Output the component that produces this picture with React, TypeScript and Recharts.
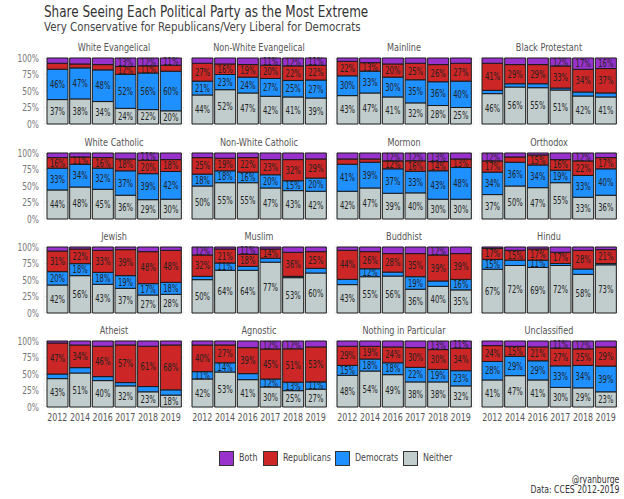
import { BarChart, Bar, XAxis, YAxis, CartesianGrid, LabelList } from 'recharts';

const years = ['2012', '2014', '2016', '2017', '2018', '2019'];

const groups = [
  'White Evangelical', 'Non-White Evangelical', 'Mainline', 'Black Protestant',
  'White Catholic', 'Non-White Catholic', 'Mormon', 'Orthodox',
  'Jewish', 'Muslim', 'Buddhist', 'Hindu',
  'Atheist', 'Agnostic', 'Nothing in Particular', 'Unclassified',
];

// percent of each group, per year
const neither = [
  [37, 38, 34, 24, 22, 20], [44, 52, 47, 42, 41, 39], [43, 47, 41, 32, 28, 25], [46, 56, 55, 51, 42, 41],
  [44, 48, 45, 36, 29, 30], [50, 55, 55, 47, 43, 42], [42, 47, 39, 40, 30, 30], [37, 50, 47, 55, 33, 36],
  [42, 56, 43, 37, 27, 28], [50, 64, 64, 77, 53, 60], [43, 55, 56, 36, 40, 35], [67, 72, 69, 72, 58, 73],
  [43, 51, 40, 32, 23, 18], [42, 53, 41, 30, 25, 27], [48, 54, 49, 38, 38, 32], [41, 47, 41, 30, 29, 23],
];
const democrats = [
  [46, 47, 48, 52, 56, 60], [21, 23, 24, 27, 25, 27], [30, 33, 30, 35, 36, 40], [5, 5, 6, 3, 6, 6],
  [33, 34, 32, 37, 39, 42], [18, 18, 16, 20, 15, 20], [41, 39, 37, 33, 43, 48], [34, 36, 34, 19, 33, 40],
  [20, 18, 18, 19, 17, 18], [5, 11, 6, 6, 2, 7], [8, 12, 6, 19, 8, 16], [15, 8, 11, 3, 8, 2],
  [7, 8, 6, 5, 8, 8], [11, 14, 9, 12, 13, 11], [15, 18, 18, 22, 19, 23], [28, 29, 29, 33, 34, 39],
];
const republicans = [
  [9, 6, 8, 12, 11, 9], [27, 16, 19, 20, 22, 22], [22, 13, 20, 25, 26, 27], [41, 29, 29, 33, 34, 37],
  [16, 11, 16, 18, 20, 18], [25, 19, 22, 23, 32, 29], [8, 5, 12, 16, 14, 13], [17, 8, 15, 16, 22, 17],
  [31, 22, 33, 39, 48, 48], [32, 21, 18, 14, 36, 25], [44, 26, 28, 35, 39, 39], [17, 15, 17, 17, 28, 21],
  [47, 34, 46, 57, 61, 68], [40, 27, 39, 45, 51, 53], [29, 19, 24, 30, 30, 34], [24, 15, 21, 27, 25, 29],
];
const both = [
  [8, 9, 10, 13, 12, 11], [8, 9, 10, 11, 12, 11], [5, 7, 9, 8, 10, 8], [8, 10, 10, 12, 17, 16],
  [7, 6, 7, 9, 11, 10], [7, 8, 7, 10, 10, 9], [9, 9, 12, 12, 13, 9], [12, 6, 3, 10, 12, 7],
  [6, 3, 5, 4, 7, 5], [12, 3, 11, 3, 8, 7], [5, 7, 10, 10, 12, 10], [2, 5, 3, 8, 5, 4],
  [3, 6, 8, 6, 8, 6], [6, 6, 10, 12, 12, 9], [8, 8, 9, 10, 13, 11], [7, 8, 9, 11, 12, 9],
];

const yTicks = [0, 0.25, 0.5, 0.75, 1];

const colors = {
  both: '#9932CC',
  republicans: '#CD2626',
  democrats: '#1E90FF',
  neither: '#C1CDCD',
};

const FONT = "'Liberation Sans Narrow', 'DejaVu Sans Condensed', 'Roboto', sans-serif";

const plotLefts = [44, 189, 334, 479];
const plotTops = [58, 152.5, 247, 341];
const plotW = 140;
const plotH = 66;
const yAxisW = 40;

// squeezed svg text, the original uses a very narrow face
const NarrowText = ({ x, y, text, anchor, dy, size, fill, sx = 0.78 }: any) => (
  <text
    transform={`translate(${x},${y}) scale(${sx},1)`}
    textAnchor={anchor}
    dy={dy}
    fontSize={size}
    fill={fill}
  >
    {text}
  </text>
);

const XTick = (p: any) => (
  <NarrowText x={p.x} y={p.y} text={p.payload.value} anchor="middle" dy="0.71em" size={11} fill="#555" sx={0.8} />
);

const YTick = (p: any) => (
  <NarrowText
    x={p.x}
    y={p.y}
    text={`${Math.round(p.payload.value * 100)}%`}
    anchor="end"
    dy="0.35em"
    size={10.5}
    fill="#777"
    sx={0.8}
  />
);

const SegLabel = (p: any) => {
  const { x, y, width, height, value } = p;
  if (!(value > 10)) return null;
  return (
    <NarrowText
      x={Number(x) + Number(width) / 2}
      y={Number(y) + Number(height) / 2}
      text={`${value}%`}
      anchor="middle"
      dy="0.36em"
      size={10}
      fill="#222"
      sx={0.76}
    />
  );
};

function Panel({ idx }: { idx: number }) {
  const row = Math.floor(idx / 4);
  const col = idx % 4;
  const firstCol = col === 0;
  const bottom = row === 3;
  const data = years.map((y, j) => ({
    year: y,
    neither: neither[idx][j],
    democrats: democrats[idx][j],
    republicans: republicans[idx][j],
    both: both[idx][j],
  }));
  const topM = 6;
  const botM = bottom ? 0 : 6;
  const xH = bottom ? 20 : 0;
  const w = plotW + (firstCol ? yAxisW : 0);
  const h = plotH + topM + botM + xH;
  const left = plotLefts[col] - (firstCol ? yAxisW : 0);
  const top = plotTops[row] - topM;

  const series = ['neither', 'democrats', 'republicans', 'both'] as const;

  return (
    <>
      <div
        style={{
          position: 'absolute',
          left: plotLefts[col],
          width: plotW,
          top: plotTops[row] - 18,
          height: 14,
          lineHeight: '14px',
          textAlign: 'center',
          fontSize: 10.5,
          color: '#555',
          transform: 'scaleX(0.86)',
          whiteSpace: 'nowrap',
        }}
      >
        {groups[idx]}
      </div>
      <div style={{ position: 'absolute', left, top }}>
        <BarChart
          width={w}
          height={h}
          data={data}
          stackOffset="expand"
          barSize={21}
          margin={{ top: topM, right: 0, bottom: botM, left: 0 }}
        >
          <CartesianGrid stroke="#e8e8e8" strokeWidth={0.8} />
          <XAxis
            dataKey="year"
            padding={{ left: 2, right: 2 }}
            height={xH}
            tick={bottom ? <XTick /> : false}
            tickLine={false}
            axisLine={false}
            tickSize={4}
            interval={0}
          />
          <YAxis
            type="number"
            domain={[0, 1]}
            ticks={yTicks}
            interval={0}
            width={firstCol ? yAxisW : 0}
            tick={firstCol ? <YTick /> : false}
            tickLine={false}
            axisLine={false}
            tickSize={3}
          />
          {series.map((k) => (
            <Bar
              key={k}
              dataKey={k}
              stackId="a"
              fill={colors[k]}
              stroke="#1a1a1a"
              strokeWidth={1}
              isAnimationActive={false}
            >
              <LabelList dataKey={k} content={<SegLabel />} />
            </Bar>
          ))}
        </BarChart>
      </div>
    </>
  );
}

const legendItems = [
  { label: 'Both', color: colors.both, box: 219, text: 239 },
  { label: 'Republicans', color: colors.republicans, box: 263, text: 283 },
  { label: 'Democrats', color: colors.democrats, box: 335, text: 355 },
  { label: 'Neither', color: colors.neither, box: 403, text: 423 },
];

export default function App() {
  return (
    <div
      style={{
        position: 'absolute',
        left: 0,
        top: 0,
        width: 624,
        height: 499,
        background: '#fff',
        fontFamily: FONT,
        overflow: 'hidden',
      }}
    >
      <div
        style={{
          position: 'absolute',
          left: 44,
          top: 2,
          fontSize: 15.5,
          lineHeight: '20px',
          color: '#333',
          whiteSpace: 'nowrap',
          transform: 'scaleX(0.86)',
          transformOrigin: 'left center',
        }}
      >
        Share Seeing Each Political Party as the Most Extreme
      </div>
      <div
        style={{
          position: 'absolute',
          left: 44,
          top: 19,
          fontSize: 12,
          lineHeight: '16px',
          color: '#444',
          whiteSpace: 'nowrap',
          transform: 'scaleX(0.95)',
          transformOrigin: 'left center',
        }}
      >
        Very Conservative for Republicans/Very Liberal for Democrats
      </div>

      {groups.map((_, i) => (
        <Panel key={i} idx={i} />
      ))}

      {legendItems.map((it) => (
        <div key={it.label}>
          <div
            style={{
              position: 'absolute',
              left: it.box,
              top: 451,
              width: 13,
              height: 13,
              background: it.color,
              border: '1px solid #333',
            }}
          />
          <div
            style={{
              position: 'absolute',
              left: it.text,
              top: 450,
              lineHeight: '16px',
              fontSize: 11,
              color: '#444',
              transform: 'scaleX(0.8)',
              transformOrigin: 'left center',
              whiteSpace: 'nowrap',
            }}
          >
            {it.label}
          </div>
        </div>
      ))}

      <div
        style={{
          position: 'absolute',
          right: 5,
          top: 474,
          textAlign: 'right',
          fontSize: 10.5,
          lineHeight: '10px',
          color: '#333',
          whiteSpace: 'nowrap',
          transform: 'scaleX(0.82)',
          transformOrigin: 'right center',
        }}
      >
        <div>@ryanburge</div>
        <div>Data: CCES 2012-2019</div>
      </div>
    </div>
  );
}
